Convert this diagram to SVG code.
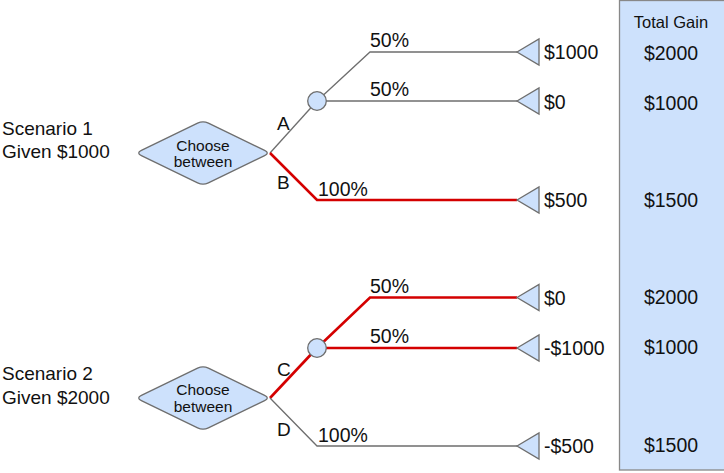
<svg xmlns="http://www.w3.org/2000/svg" width="724" height="473" viewBox="0 0 724 473">
<style>
text{font-family:"Liberation Sans",Arial,sans-serif;fill:#111}
.lab{font-size:19px}
.pct{font-size:19.5px}
.val{font-size:19.5px}
.sm{font-size:15.5px}
.hd{font-size:16.5px}
.mid{text-anchor:middle}
.gray{fill:none;stroke:#6e6e6e;stroke-width:1.3}
.red{fill:none;stroke:#d40000;stroke-width:2.6}
.shape{fill:#cde1fc;stroke:#6e6e6e;stroke-width:1.3}
</style>
<defs>
<path id="dia" d="M-61.6,-2.6 L-5.4,-29.9 Q0,-32.5 5.4,-29.9 L61.6,-2.6 Q67,0 61.6,2.6 L5.4,29.9 Q0,32.5 -5.4,29.9 L-61.6,2.6 Q-67,0 -61.6,-2.6 Z"/>
<path id="tri" d="M0,0 L22,-13 L22,13 Z"/>
</defs>
<rect id="totalbox" x="619.5" y="0.5" width="110" height="469.5" fill="#cde1fc" stroke="#888" stroke-width="1.3"/>
<g id="connectors">
<path class="gray" d="M270,153 L317,101"/>
<path class="gray" d="M317,101 L370,52 L517,52"/>
<path class="gray" d="M317,101 L517,101"/>
<path class="red" d="M270,153 L317,200 L517,200"/>
<path class="red" d="M270,398 L317,348"/>
<path class="red" d="M317,348 L370,297.5 L517,297.5"/>
<path class="red" d="M317,348 L517,348"/>
<path class="gray" d="M270,398 L317,446 L517,446"/>
</g>
<g id="scenario1-label"><text class="lab" x="2" y="135">Scenario 1</text><text class="lab" x="2" y="158">Given $1000</text></g>
<g id="scenario2-label"><text class="lab" x="2" y="380">Scenario 2</text><text class="lab" x="2" y="404">Given $2000</text></g>
<g id="decision1"><use href="#dia" class="shape" transform="translate(203,153)"/><text class="sm mid" x="203" y="150.7">Choose</text><text class="sm mid" x="203" y="166.7">between</text></g>
<g id="decision2"><use href="#dia" class="shape" transform="translate(203,398)"/><text class="sm mid" x="203" y="395">Choose</text><text class="sm mid" x="203" y="411.7">between</text></g>
<g id="chance1"><circle class="shape" cx="317" cy="101" r="9.3"/></g>
<g id="chance2"><circle class="shape" cx="317" cy="348" r="9.3"/></g>
<g id="edge-labels">
<text class="lab" x="277" y="130">A</text>
<text class="lab" x="277" y="189">B</text>
<text class="lab" x="277" y="376">C</text>
<text class="lab" x="277" y="436">D</text>
<text class="pct" x="370" y="47">50%</text>
<text class="pct" x="370" y="96">50%</text>
<text class="pct" x="318" y="196">100%</text>
<text class="pct" x="370" y="293">50%</text>
<text class="pct" x="370" y="343">50%</text>
<text class="pct" x="318" y="442">100%</text>
</g>
<g id="end1"><use href="#tri" class="shape" transform="translate(517,52)"/><text class="val" x="544" y="59">$1000</text></g>
<g id="end2"><use href="#tri" class="shape" transform="translate(517,101)"/><text class="val" x="544" y="109">$0</text></g>
<g id="end3"><use href="#tri" class="shape" transform="translate(517,200)"/><text class="val" x="544" y="207">$500</text></g>
<g id="end4"><use href="#tri" class="shape" transform="translate(517,297.5)"/><text class="val" x="544" y="305">$0</text></g>
<g id="end5"><use href="#tri" class="shape" transform="translate(517,348)"/><text class="val" x="544" y="355">-$1000</text></g>
<g id="end6"><use href="#tri" class="shape" transform="translate(517,446)"/><text class="val" x="544" y="453">-$500</text></g>
<g id="total-gain">
<text class="hd mid" x="671" y="27.5">Total Gain</text>
<text class="val mid" x="671" y="60">$2000</text>
<text class="val mid" x="671" y="110">$1000</text>
<text class="val mid" x="671" y="207">$1500</text>
<text class="val mid" x="671" y="304">$2000</text>
<text class="val mid" x="671" y="354">$1000</text>
<text class="val mid" x="671" y="452">$1500</text>
</g>
</svg>
